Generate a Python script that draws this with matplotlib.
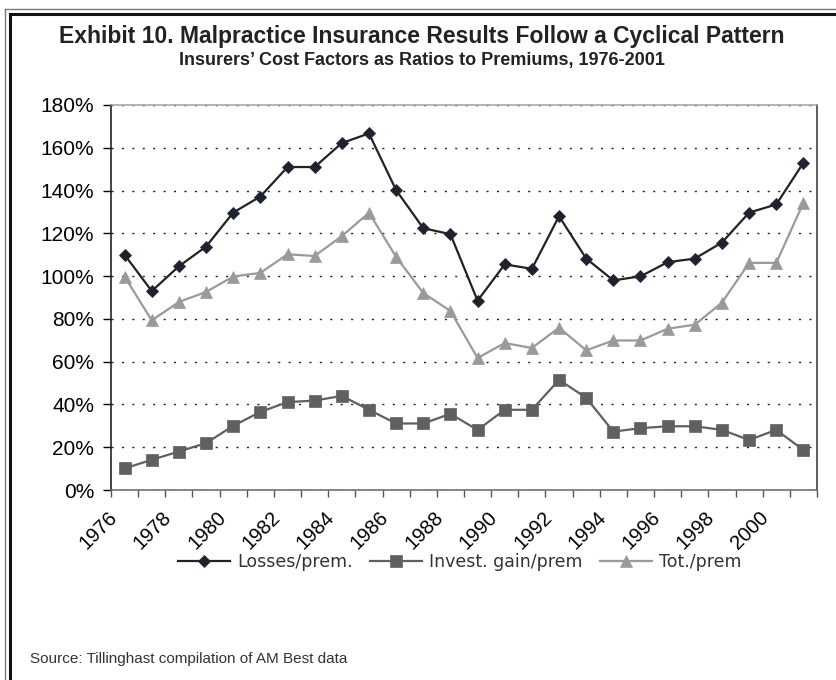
import numpy as np
import matplotlib
matplotlib.use("Agg")
import matplotlib.pyplot as plt
from matplotlib.lines import Line2D
from matplotlib.ticker import PercentFormatter
from matplotlib.transforms import ScaledTranslation

plt.rcParams["font.family"] = ["Liberation Sans", "DejaVu Sans"]

# ---- data (ratios to premiums, %) ----
years = list(range(1976, 2002))
losses = [110, 93, 104.6, 113.8, 129.7, 137.2, 151, 151, 162.2, 166.7, 140.2, 122.4, 119.6,
          88.5, 105.5, 103.4, 128, 108.2, 98, 99.9, 106.5, 108.2, 115.7, 129.7, 133.5, 153]
invest = [10.1, 14.1, 18, 21.9, 30, 36.5, 41.1, 41.8, 44, 37.5, 31.1, 31.1, 35.6,
          28.1, 37.5, 37.5, 51.5, 43.1, 27.3, 28.9, 29.8, 29.8, 28.1, 23.4, 28.1, 18.7]
total = [99.8, 79.3, 87.9, 92.6, 99.8, 101.5, 110.2, 109.4, 118.7, 129.6, 109, 92.1, 83.7,
         61.7, 68.7, 66.4, 75.9, 65.3, 69.9, 69.9, 75.4, 77.3, 87.6, 106.2, 106.2, 134.3]
names = ["Losses/prem.", "Invest. gain/prem", "Tot./prem"]

W, H = 837, 680
fig = plt.figure(figsize=(W / 100, H / 100), dpi=100)
ax = fig.add_axes([111 / W, 1 - 490 / H, (817 - 111) / W, (490 - 105) / H])

x = np.arange(len(years))
l1, = ax.plot(x, losses, color="#222222", lw=1.6, marker="D", ms=6,
              mfc="#222222", mec="#1c2a5a", mew=0.6, zorder=5)
l2, = ax.plot(x, invest, color="#606060", lw=1.6, marker="s", ms=8.5,
              mfc="#606060", mec="#606060", mew=0.5, zorder=4)
l3, = ax.plot(x, total, color="#9a9a9a", lw=1.6, marker="^", ms=9,
              mfc="#9a9a9a", mec="#9a9a9a", mew=0.5, zorder=4)

ax.set_xlim(-0.5, len(years) - 0.5)
ax.set_ylim(0, 180)
ax.set_yticks(np.arange(0, 181, 20))
ax.yaxis.set_major_formatter(PercentFormatter(decimals=0))
ax.yaxis.grid(True, color="#222222", lw=1.0, ls=(0, (1.5, 6)))
ax.set_axisbelow(True)

# category boundary ticks + labels every 2 years
ax.set_xticks(np.arange(-0.5, len(years), 1.0), minor=True)
ax.set_xticks(x[::2])
ax.set_xticklabels([str(y) for y in years[::2]], rotation=45, ha="right",
                   rotation_mode="anchor")
ax.tick_params(axis="x", which="minor", length=5, color="#555555", width=1)
ax.tick_params(axis="x", which="major", length=0, pad=13, labelsize=14.5)
ax.tick_params(axis="y", length=6, width=1, pad=6, labelsize=15)
off = ScaledTranslation(-17 / 100, 0, fig.dpi_scale_trans)
for lab in ax.get_xticklabels():
    lab.set_transform(lab.get_transform() + off)

ax.spines["left"].set_color("#111111")
ax.spines["bottom"].set_color("#666666")
ax.spines["top"].set_color("#a0a0a0")
ax.spines["right"].set_color("#333333")
for s in ax.spines.values():
    s.set_linewidth(1.1)

fig.text(0.504, 1 - 37 / H, "Exhibit 10. Malpractice Insurance Results Follow a Cyclical Pattern",
         ha="center", va="center", fontsize=16.5, fontweight="bold", color="#222222")
fig.text(0.504, 1 - 60 / H, "Insurers\u2019 Cost Factors as Ratios to Premiums, 1976-2001",
         ha="center", va="center", fontsize=13, fontweight="bold", color="#222222")

leg = fig.legend([l1, l2, l3], names, loc="center", bbox_to_anchor=(460 / W, 1 - 562 / H),
                 ncol=3, frameon=False, handlelength=3.0, columnspacing=1.0,
                 handletextpad=0.4, prop=dict(family="DejaVu Sans", size=12.5))
for t in leg.get_texts():
    t.set_color("#333333")

fig.text(30 / W, 1 - 659 / H, "Source: Tillinghast compilation of AM Best data",
         ha="left", va="center", fontsize=11, color="#333333")

# double frame round the exhibit
fig.add_artist(Line2D([4.5 / W, 1], [1 - 9 / H, 1 - 9 / H], transform=fig.transFigure,
                      color="#777777", lw=1))
fig.add_artist(Line2D([4.5 / W, 4.5 / W], [0, 1 - 9 / H], transform=fig.transFigure,
                      color="#777777", lw=1))
fig.add_artist(Line2D([10 / W, 1], [1 - 14 / H, 1 - 14 / H], transform=fig.transFigure,
                      color="#111111", lw=2.2))
fig.add_artist(Line2D([10 / W, 10 / W], [0, 1 - 14 / H], transform=fig.transFigure,
                      color="#111111", lw=2.2))

fig.savefig("out.png", dpi=100)
